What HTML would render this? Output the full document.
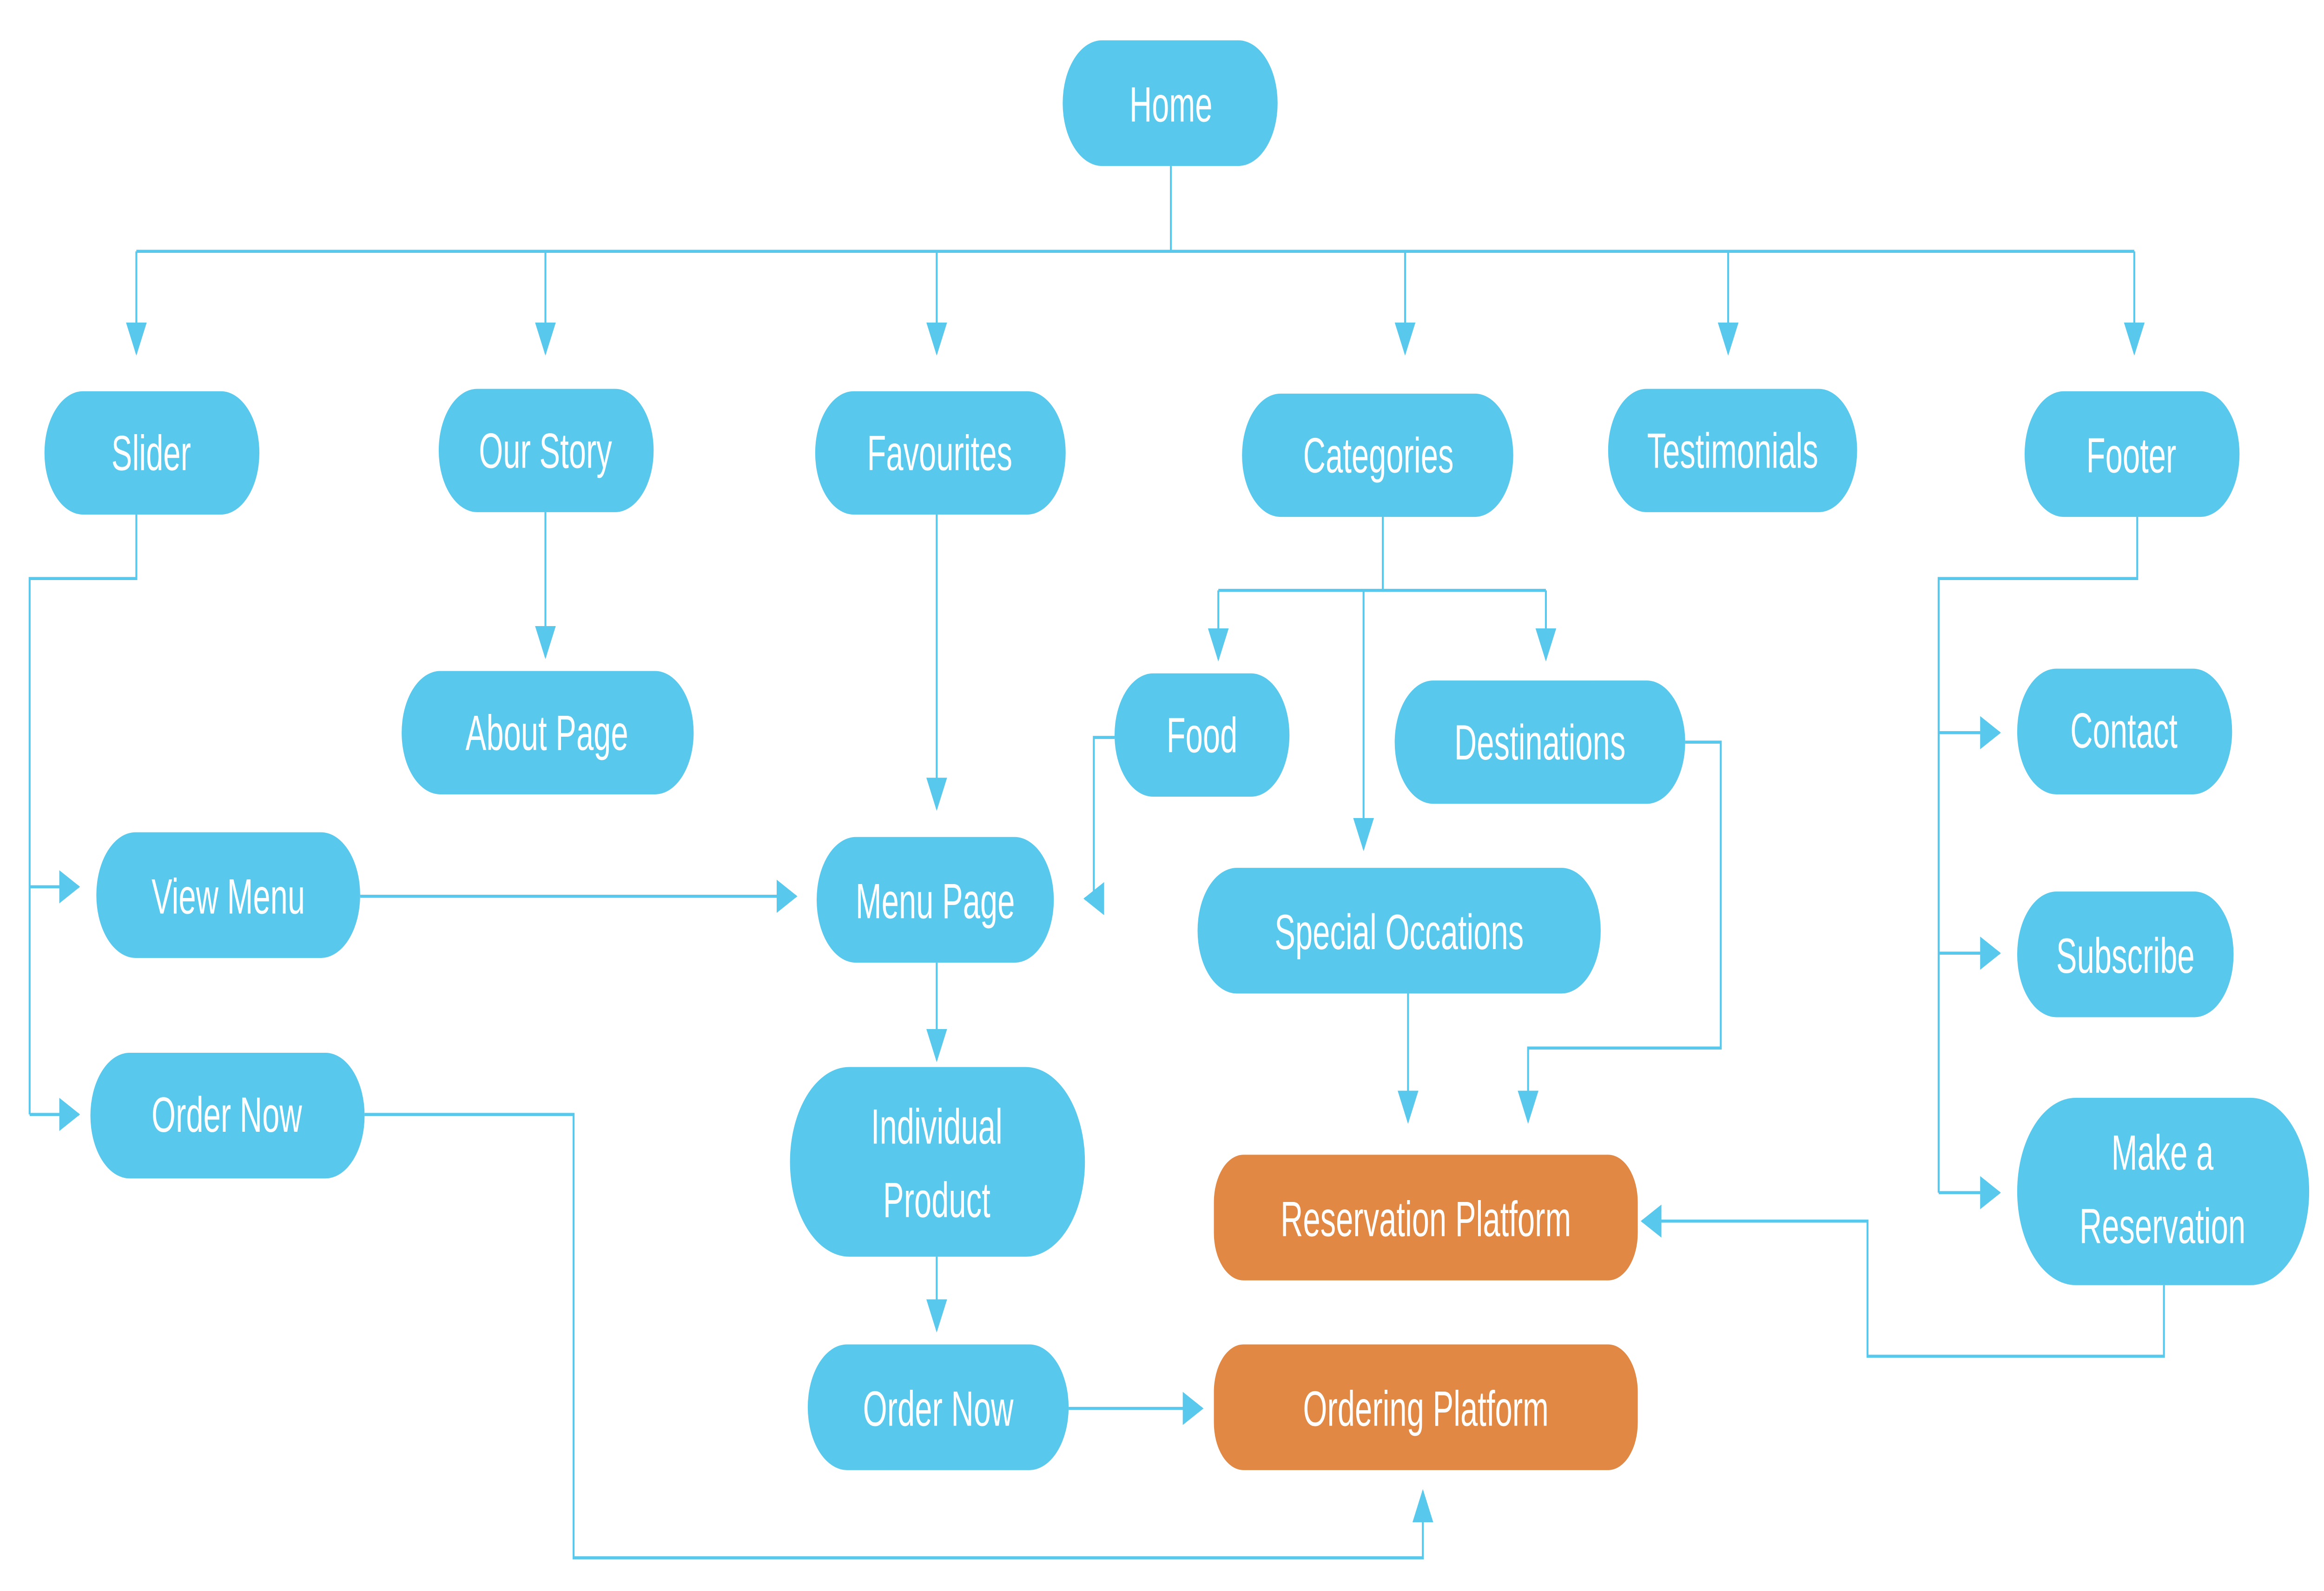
<!DOCTYPE html>
<html><head><meta charset="utf-8"><style>
html,body{margin:0;padding:0;background:#fff;width:100%;height:100%;overflow:hidden;}
svg{display:block;position:fixed;left:0;top:0;width:100vw;height:100vh;}
text{font-family:"Liberation Sans",sans-serif;font-size:21px;fill:#fff;text-anchor:middle;dominant-baseline:central;}
</style></head><body>
<svg viewBox="0 0 1568 671" preserveAspectRatio="none" xmlns="http://www.w3.org/2000/svg">
<defs><marker id="a" markerWidth="14" markerHeight="14" refX="13" refY="7" orient="auto" markerUnits="userSpaceOnUse"><path d="M0,0 L14,7 L0,14 Z" fill="#58C8EC"/></marker></defs>
<g stroke="#58C8EC" stroke-width="1.3" fill="none">
<path d="M790,70 V106"/>
<path d="M92,106 H1440"/>
<path d="M92,106 V149" marker-end="url(#a)"/>
<path d="M368,106 V149" marker-end="url(#a)"/>
<path d="M632,106 V149" marker-end="url(#a)"/>
<path d="M948,106 V149" marker-end="url(#a)"/>
<path d="M1166,106 V149" marker-end="url(#a)"/>
<path d="M1440,106 V149" marker-end="url(#a)"/>
<path d="M92,217 V244 H20 V470"/>
<path d="M20,374 H53" marker-end="url(#a)"/>
<path d="M20,470 H53" marker-end="url(#a)"/>
<path d="M243,378 H537" marker-end="url(#a)"/>
<path d="M246,470 H387 V657 H960 V629" marker-end="url(#a)"/>
<path d="M368,216 V277" marker-end="url(#a)"/>
<path d="M632,217 V341" marker-end="url(#a)"/>
<path d="M632,406 V447" marker-end="url(#a)"/>
<path d="M632,530 V561" marker-end="url(#a)"/>
<path d="M721,594 H811" marker-end="url(#a)"/>
<path d="M933,218 V249"/>
<path d="M822,249 H1043"/>
<path d="M822,249 V278" marker-end="url(#a)"/>
<path d="M1043,249 V278" marker-end="url(#a)"/>
<path d="M920,249 V358" marker-end="url(#a)"/>
<path d="M752,311 H738 V379 H732" marker-end="url(#a)"/>
<path d="M1137,313 H1161 V442 H1031 V473" marker-end="url(#a)"/>
<path d="M950,419 V473" marker-end="url(#a)"/>
<path d="M1442,218 V244 H1308 V503"/>
<path d="M1308,309 H1349" marker-end="url(#a)"/>
<path d="M1308,402 H1349" marker-end="url(#a)"/>
<path d="M1308,503 H1349" marker-end="url(#a)"/>
<path d="M1460,542 V572 H1260 V515 H1108" marker-end="url(#a)"/>
</g>
<g fill="#58C8EC">
<rect x="717" y="17" width="145" height="53" rx="26.5"/>
<rect x="30" y="165" width="145" height="52" rx="26"/>
<rect x="296" y="164" width="145" height="52" rx="26"/>
<rect x="550" y="165" width="169" height="52" rx="26"/>
<rect x="838" y="166" width="183" height="52" rx="26"/>
<rect x="1085" y="164" width="168" height="52" rx="26"/>
<rect x="1366" y="165" width="145" height="53" rx="26.5"/>
<rect x="271" y="283" width="197" height="52" rx="26"/>
<rect x="65" y="351" width="178" height="53" rx="26.5"/>
<rect x="61" y="444" width="185" height="53" rx="26.5"/>
<rect x="551" y="353" width="160" height="53" rx="26.5"/>
<rect x="533" y="450" width="199" height="80" rx="40"/>
<rect x="545" y="567" width="176" height="53" rx="26.5"/>
<rect x="752" y="284" width="118" height="52" rx="26"/>
<rect x="941" y="287" width="196" height="52" rx="26"/>
<rect x="808" y="366" width="272" height="53" rx="26.5"/>
<rect x="1361" y="282" width="145" height="53" rx="26.5"/>
<rect x="1361" y="376" width="146" height="53" rx="26.5"/>
<rect x="1361" y="463" width="197" height="79" rx="39.5"/>
</g>
<g fill="#E08844">
<rect x="819" y="487" width="286" height="53" rx="20"/>
<rect x="819" y="567" width="286" height="53" rx="20"/>
</g>
<text x="790" y="44">Home</text>
<text x="102" y="191">Slider</text>
<text x="368" y="190">Our Story</text>
<text x="634" y="191">Favourites</text>
<text x="930" y="192">Categories</text>
<text x="1169" y="190">Testimonials</text>
<text x="1438" y="192">Footer</text>
<text x="369" y="309">About Page</text>
<text x="154" y="378">View Menu</text>
<text x="153" y="470">Order Now</text>
<text x="631" y="380">Menu Page</text>
<text x="632" y="475">Individual</text>
<text x="632" y="506">Product</text>
<text x="633" y="594">Order Now</text>
<text x="811" y="310">Food</text>
<text x="1039" y="313">Destinations</text>
<text x="944" y="393">Special Occations</text>
<text x="962" y="514">Reservation Platform</text>
<text x="962" y="594">Ordering Platform</text>
<text x="1433" y="308">Contact</text>
<text x="1434" y="403">Subscribe</text>
<text x="1459" y="486">Make a</text>
<text x="1459" y="517">Reservation</text>
</svg>
</body></html>
